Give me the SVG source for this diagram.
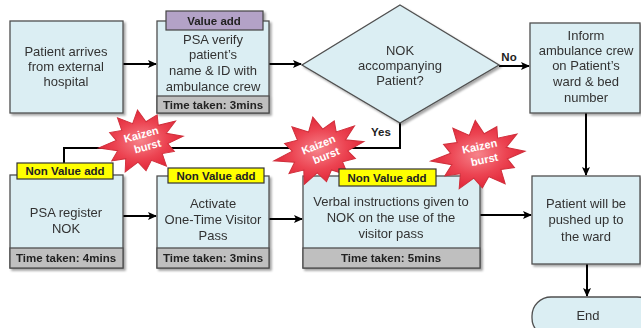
<svg xmlns="http://www.w3.org/2000/svg" width="641" height="328" viewBox="0 0 641 328">
<defs>
<style>
.box{fill:#dbeef3;stroke:#505050;stroke-width:1.3}
.tbar{fill:#bfbfbf;stroke:#505050;stroke-width:1.3}
.lbl{fill:#ffff00;stroke:#333;stroke-width:1.2}
.plbl{fill:#b3a2c7;stroke:#444;stroke-width:1.2}
.t{font-family:"Liberation Sans",Arial,sans-serif;font-size:13px;fill:#333;text-anchor:middle}
.tb{font-family:"Liberation Sans",Arial,sans-serif;font-size:11.5px;font-weight:bold;fill:#222;text-anchor:middle}
.kz{font-family:"Liberation Sans",Arial,sans-serif;font-size:11px;font-weight:bold;fill:#fff;text-anchor:middle}
.ln{fill:none;stroke:#000;stroke-width:2}
.star{fill:url(#rg);stroke:#d0303c;stroke-width:1}
</style>
<marker id="ah" markerWidth="10" markerHeight="10" refX="8" refY="5" orient="auto" markerUnits="userSpaceOnUse">
<path d="M0,1 L9,5 L0,9 L2,5 Z" fill="#000"/>
</marker>
<radialGradient id="rg" cx="0.5" cy="0.5" r="0.5">
<stop offset="0" stop-color="#f6838b"/>
<stop offset="0.6" stop-color="#ec4452"/>
<stop offset="1" stop-color="#e2283a"/>
</radialGradient>
<filter id="sh" x="-10%" y="-10%" width="130%" height="130%">
<feDropShadow dx="2" dy="2" stdDeviation="1.2" flood-color="#000" flood-opacity="0.35"/>
</filter>
<polygon id="burst" class="star" points="44,0 26.6,5.5 32.4,14.5 19.4,15 22,28.9 7.1,20.5 0,30.6 -7.1,20.5 -22,28.9 -19.4,15 -34.3,15.3 -26.6,5.5 -46.2,0 -26.6,-5.5 -32.4,-14.5 -19.4,-15 -22,-28.9 -7.1,-20.5 0,-34 7.1,-20.5 19.8,-26 19.4,-15 38.1,-17 26.6,-5.5"/>
</defs>
<rect width="641" height="328" fill="#fff"/>

<g id="connectors">
<line class="ln" x1="123" y1="64" x2="156" y2="64" marker-end="url(#ah)"/>
<line class="ln" x1="269" y1="64" x2="301" y2="64" marker-end="url(#ah)"/>
<line class="ln" x1="499" y1="66" x2="529" y2="66" marker-end="url(#ah)"/>
<line class="ln" x1="586" y1="113" x2="586" y2="175" marker-end="url(#ah)"/>
<line class="ln" x1="587" y1="264" x2="587" y2="296" marker-end="url(#ah)"/>
<polyline class="ln" points="400,123 400,148 64,148 64,164"/>
<line class="ln" x1="123" y1="216" x2="156" y2="216" marker-end="url(#ah)"/>
<line class="ln" x1="269" y1="219" x2="302" y2="219" marker-end="url(#ah)"/>
<line class="ln" x1="480" y1="215" x2="531" y2="215" marker-end="url(#ah)"/>
<text class="tb" x="509" y="61" font-size="12.5">No</text>
<text class="tb" x="381" y="136" font-size="12.5">Yes</text>
</g>

<g id="n1" filter="url(#sh)">
<rect class="box" x="10" y="21" width="113" height="92"/>
<text class="t" x="66" y="56">Patient arrives</text>
<text class="t" x="66" y="71">from external</text>
<text class="t" x="66" y="86">hospital</text>
</g>

<g id="n2" filter="url(#sh)">
<rect class="box" x="157" y="21" width="112" height="92"/>
<rect class="tbar" x="157" y="96" width="112" height="17"/>
<text class="tb" x="213" y="109">Time taken: 3mins</text>
<rect class="plbl" x="166" y="11" width="97" height="19"/>
<text class="tb" x="214" y="25">Value add</text>
<text class="t" x="213" y="44">PSA verify</text>
<text class="t" x="213" y="59">patient’s</text>
<text class="t" x="213" y="75">name &amp; ID with</text>
<text class="t" x="213" y="91">ambulance crew</text>
</g>

<g id="n3" filter="url(#sh)">
<polygon class="box" points="400,5 499,65 400,123 302,65"/>
<text class="t" x="400" y="55">NOK</text>
<text class="t" x="400" y="70">accompanying</text>
<text class="t" x="400" y="85">Patient?</text>
</g>

<g id="n4" filter="url(#sh)">
<rect class="box" x="530" y="23" width="110" height="90"/>
<text class="t" x="586" y="40">Inform</text>
<text class="t" x="586" y="55">ambulance crew</text>
<text class="t" x="586" y="70">on Patient’s</text>
<text class="t" x="586" y="86">ward &amp; bed</text>
<text class="t" x="586" y="102">number</text>
</g>

<g id="n5" filter="url(#sh)">
<rect class="box" x="10" y="175" width="113" height="93"/>
<rect class="tbar" x="10" y="248" width="113" height="20"/>
<text class="tb" x="66" y="262">Time taken: 4mins</text>
<text class="t" x="66" y="217">PSA register</text>
<text class="t" x="66" y="233">NOK</text>
</g>

<g id="n6" filter="url(#sh)">
<rect class="box" x="157" y="176" width="112" height="92"/>
<rect class="tbar" x="157" y="248" width="112" height="20"/>
<text class="tb" x="213" y="262">Time taken: 3mins</text>
<text class="t" x="213" y="208">Activate</text>
<text class="t" x="213" y="224">One-Time Visitor</text>
<text class="t" x="213" y="240">Pass</text>
</g>

<g id="n7" filter="url(#sh)">
<rect class="box" x="303" y="176" width="177" height="92"/>
<rect class="tbar" x="303" y="248" width="177" height="20"/>
<text class="tb" x="391" y="262">Time taken: 5mins</text>
<text class="t" x="391" y="206">Verbal instructions given to</text>
<text class="t" x="391" y="222">NOK on the use of the</text>
<text class="t" x="391" y="238">visitor pass</text>
</g>

<g id="n8" filter="url(#sh)">
<rect class="box" x="532" y="176" width="108" height="88"/>
<text class="t" x="586" y="208">Patient will be</text>
<text class="t" x="586" y="224">pushed up to</text>
<text class="t" x="586" y="241">the ward</text>
</g>

<g id="n9" filter="url(#sh)">
<rect class="box" x="532" y="297" width="124" height="40" rx="19"/>
<text class="t" x="588" y="320">End</text>
</g>

<g id="burst1">
<use href="#burst" transform="translate(142,142) rotate(-8) scale(0.95)"/>
<text class="kz" transform="translate(143,141) rotate(-15)"><tspan x="0" y="-3">Kaizen</tspan><tspan x="3" y="10">burst</tspan></text>
</g>
<g id="burst2">
<use href="#burst" transform="translate(320,151) rotate(-12) scale(1.02)"/>
<text class="kz" transform="translate(321,151) rotate(-22)"><tspan x="0" y="-3">Kaizen</tspan><tspan x="3" y="10">burst</tspan></text>
</g>
<g id="burst3">
<use href="#burst" transform="translate(479,156) rotate(-6) scale(1.05)"/>
<text class="kz" transform="translate(481,153) rotate(-12)"><tspan x="0" y="-3">Kaizen</tspan><tspan x="2" y="11">burst</tspan></text>
</g>

<g id="labels">
<rect class="lbl" x="17" y="163" width="96" height="16"/>
<text class="tb" x="65" y="175">Non  Value add</text>
<rect class="lbl" x="168" y="168" width="96" height="15"/>
<text class="tb" x="216" y="180">Non  Value add</text>
<rect class="lbl" x="339" y="169" width="97" height="17"/>
<text class="tb" x="387" y="182">Non  Value add</text>
</g>
</svg>
